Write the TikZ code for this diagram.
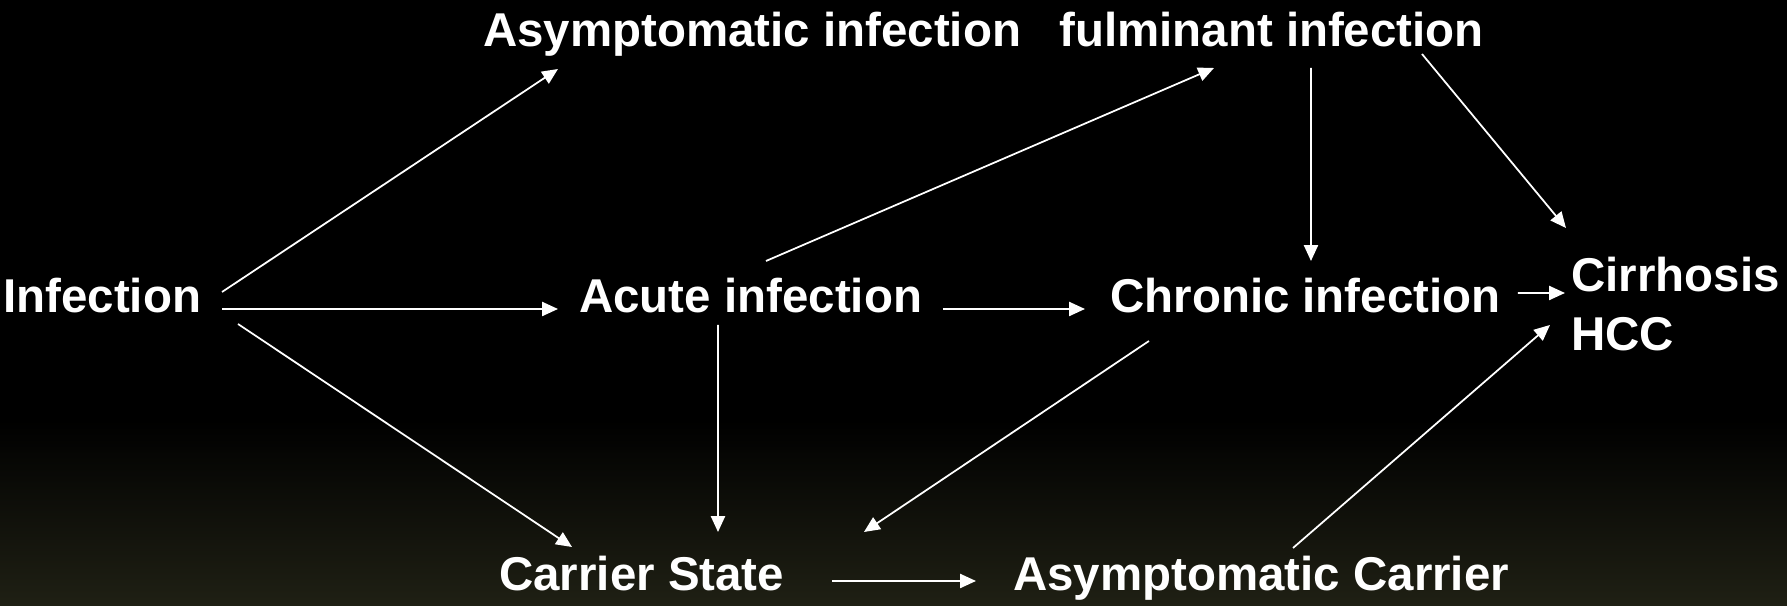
\documentclass[tikz,border=0pt]{standalone}
\usepackage{fontspec}
\setmainfont{Liberation Sans}
\usetikzlibrary{arrows.meta,calc}
\definecolor{bgolive}{RGB}{31,32,20}
\begin{document}
\begin{tikzpicture}[scale=0.2]
    \tikzstyle{every node}+=[inner sep=0pt]
    \tikzstyle{stage}=[anchor=base west, text=white, font=\bfseries\fontsize{27pt}{33.6pt}\selectfont]
    \tikzstyle{arr}=[white, line width=1pt, -{Triangle[length=9pt,width=8pt]}]
    \useasboundingbox (0,0) rectangle (178.7,-60.6);
    \fill [black] (0,0) rectangle (178.7,-42);
    \shade [top color=black, bottom color=bgolive] (0,-42) rectangle (178.7,-60.6);
    \node [stage] (inf) at (0.3,-31.3) {Infection};
    \node [stage] (asym) at (48.3,-4.7) {Asymptomatic infection};
    \node [stage] (fulm) at (105.9,-4.7) {fulminant infection};
    \node [stage] (acute) at (57.9,-31.3) {Acute infection};
    \node [stage] (chron) at (111.0,-31.3) {Chronic infection};
    \node [stage, align=left] (cirr) at (157.1,-35.1) {Cirrhosis\\HCC};
    \node [stage] (carr) at (49.9,-59.1) {Carrier State};
    \node [stage] (acar) at (101.3,-59.1) {Asymptomatic Carrier};
    \draw [arr] ($(inf.base west)+(21.9,2.1)$) -- ($(asym.base west)+(7.5,-2.2)$);
    \draw [arr] ($(inf.base west)+(21.9,0.4)$) -- ($(acute.base west)+(-2.1,0.4)$);
    \draw [arr] ($(inf.base west)+(23.5,-1.1)$) -- ($(carr.base west)+(7.3,4.4)$);
    \draw [arr] ($(acute.base west)+(18.7,5.2)$) -- ($(fulm.base west)+(15.5,-2.1)$);
    \draw [arr] ($(acute.base west)+(36.4,0.4)$) -- ($(chron.base west)+(-2.5,0.4)$);
    \draw [arr] ($(acute.base west)+(13.9,-1.2)$) -- ($(carr.base west)+(21.9,5.9)$);
    \draw [arr] ($(fulm.base west)+(25.2,-2.1)$) -- ($(chron.base west)+(20.1,5.2)$);
    \draw [arr] ($(fulm.base west)+(36.3,-0.7)$) -- ($(cirr.base west)+(-0.5,12.3)$);
    \draw [arr] ($(chron.base west)+(40.8,2.0)$) -- ($(cirr.base west)+(-0.6,5.8)$);
    \draw [arr] ($(chron.base west)+(3.9,-2.8)$) -- ($(carr.base west)+(36.5,5.9)$);
    \draw [arr] ($(carr.base west)+(33.3,1.0)$) -- ($(acar.base west)+(-3.7,1.0)$);
    \draw [arr] ($(acar.base west)+(28.0,4.3)$) -- ($(cirr.base west)+(-2.1,2.6)$);
\end{tikzpicture}
\end{document}
